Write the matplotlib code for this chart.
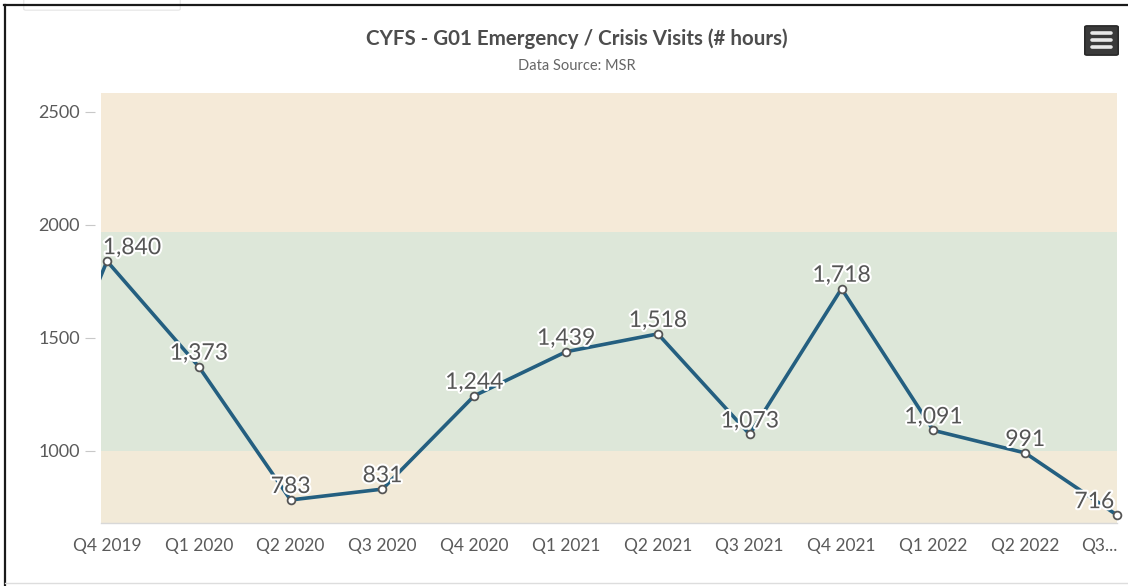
import matplotlib
matplotlib.use("Agg")
import matplotlib.pyplot as plt
from matplotlib.patches import FancyBboxPatch
from matplotlib.lines import Line2D
import matplotlib.patheffects as pe

quarters = ['Q4 2019', 'Q1 2020', 'Q2 2020', 'Q3 2020', 'Q4 2020', 'Q1 2021',
            'Q2 2021', 'Q3 2021', 'Q4 2021', 'Q1 2022', 'Q2 2022', 'Q3 2022']
tick_labels = ['Q4 2019', 'Q1 2020', 'Q2 2020', 'Q3 2020', 'Q4 2020', 'Q1 2021',
               'Q2 2021', 'Q3 2021', 'Q4 2021', 'Q1 2022', 'Q2 2022', 'Q3...']
hours = [1840, 1373, 783, 831, 1244, 1439, 1518, 1073, 1718, 1091, 991, 716]
prev_quarter_hours = 850   # Q3 2019, only the entering line segment is visible

yticks = [1000, 1500, 2000, 2500]
band_low = 1000
band_high = 1970

plt.rcParams['font.family'] = ['Lato', 'DejaVu Sans']

fig = plt.figure(figsize=(11.28, 5.86), dpi=100)
ax = fig.add_axes([101 / 1128, 1 - 523 / 586, 1016 / 1128, 430 / 586])

ymin, ymax = 681, 2584
ax.set_ylim(ymin, ymax)
ax.set_xlim(-0.065, len(quarters) - 1)

# plot bands
ax.axhspan(ymin, band_low, color='#f2ead8', lw=0, zorder=0)
ax.axhspan(band_low, band_high, color='#dde7d9', lw=0, zorder=0)
ax.axhspan(band_high, ymax, color='#f5ead8', lw=0, zorder=0)

xs = list(range(len(quarters)))
ax.plot([-1] + xs, [prev_quarter_hours] + hours, color='#245f80', lw=2.6,
        zorder=2, solid_joinstyle='round')
ax.plot(xs, hours, ls='none', marker='o', ms=5.6, mfc='white', mec='#555555',
        mew=1.3, zorder=3, clip_on=False)

# labels are kept inside the plot area, like the original
n = len(hours)
for x, v in zip(xs, hours):
    ha, dx = 'center', 0
    if x == 0:
        ha, dx = 'left', -3
    elif x == n - 1:
        ha, dx = 'right', -2
    ax.annotate('{:,}'.format(v), (x, v), xytext=(dx, 5), textcoords='offset points',
                ha=ha, va='baseline', fontsize=16.5, color='#555555', zorder=4,
                annotation_clip=False,
                path_effects=[pe.withStroke(linewidth=3, foreground='white')])

ax.set_xticks(xs)
ax.set_xticklabels(tick_labels)
ax.get_xticklabels()[-1].set_ha('right')
ax.set_yticks(yticks)
ax.set_yticklabels([str(t) for t in yticks])

for s in ['top', 'right']:
    ax.spines[s].set_visible(False)
ax.spines['left'].set_position(('outward', 4))
ax.spines['left'].set_visible(False)
ax.spines['bottom'].set_color('#d8d8d8')
ax.spines['bottom'].set_linewidth(1)
ax.tick_params(axis='x', length=0, pad=11, labelsize=12.5, labelcolor='#5a5a5a')
ax.tick_params(axis='y', length=7, width=0.8, color='#c8c8c8', pad=4,
               labelsize=13, labelcolor='#5a5a5a')

fig.text(577 / 1128, 1 - 39 / 586, 'CYFS - G01 Emergency / Crisis Visits (# hours)',
         ha='center', va='center', fontsize=14.8, fontweight='bold', color='#4d4d4d')
fig.text(577 / 1128, 1 - 66 / 586, 'Data Source: MSR', ha='center', va='center',
         fontsize=10.5, color='#666666')

# menu button
fig.patches.append(FancyBboxPatch((1087 / 1128, 1 - 54 / 586), 29 / 1128, 27 / 586,
                                  boxstyle='round,pad=0.002', transform=fig.transFigure,
                                  fc='#3a3a3a', ec='#222222', lw=1))
for yy in [33, 40, 47]:
    fig.lines.append(Line2D([1092 / 1128, 1111 / 1128], [1 - yy / 586] * 2,
                            transform=fig.transFigure, color='#e8e8e8', lw=2.6,
                            solid_capstyle='round'))

# screenshot frame
fig.lines.append(Line2D([4 / 1128, 1], [1 - 5 / 586] * 2, transform=fig.transFigure,
                        color='#1a1a1a', lw=1.6))
fig.lines.append(Line2D([5 / 1128] * 2, [0, 1 - 5 / 586], transform=fig.transFigure,
                        color='#1a1a1a', lw=1.6))
fig.lines.append(Line2D([5 / 1128, 1], [1 - 583 / 586] * 2, transform=fig.transFigure,
                        color='#dddddd', lw=1))
fig.patches.append(FancyBboxPatch((26 / 1128, 1 - 9 / 586), 152 / 1128, 20 / 586,
                                  boxstyle='round,pad=0.002', transform=fig.transFigure,
                                  fc='white', ec='#e4e4e4', lw=0.8, zorder=0))

fig.savefig('out.png', dpi=100)
